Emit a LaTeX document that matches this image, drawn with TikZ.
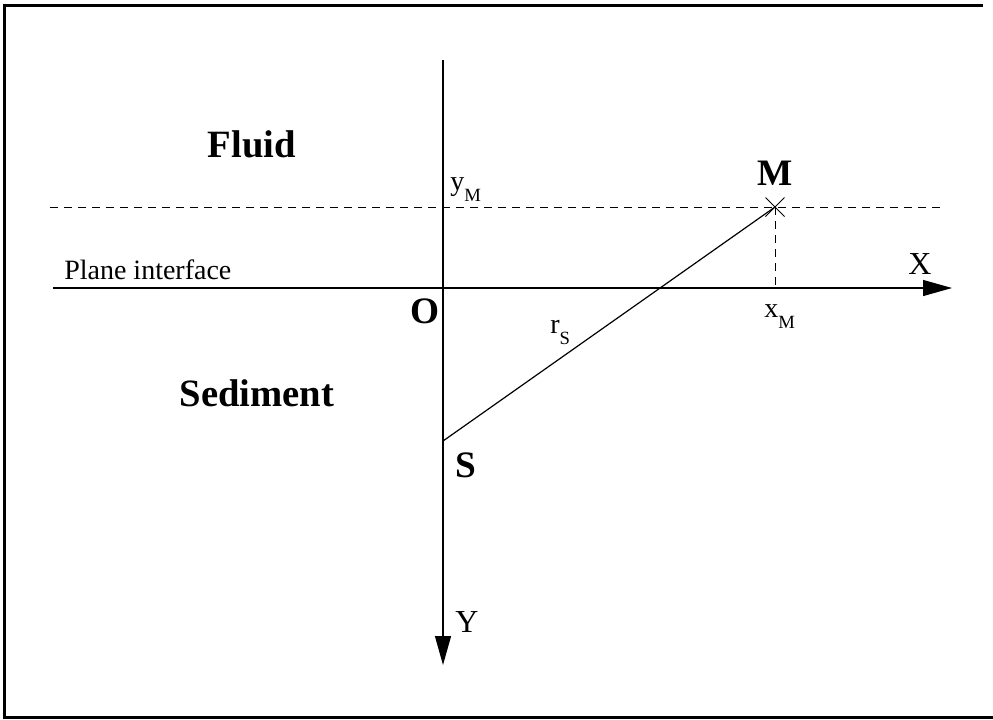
\documentclass[tikz,border=0pt]{standalone}
\usepackage{fontspec}
\setmainfont{Liberation Serif}
\usetikzlibrary{arrows.meta,shapes.misc}

\begin{document}
\begin{tikzpicture}[
    x=0.75pt, y=-0.75pt,
    axis/.style={-{Triangle[length=21.75pt,width=12pt]}, line width=0.9pt},
    guide/.style={dash pattern=on 6pt off 4.5pt, line width=0.75pt},
    region/.style={font=\fontsize{29}{34}\selectfont\bfseries, anchor=base, inner sep=0pt},
    point/.style={font=\fontsize{28}{32}\selectfont\bfseries, inner sep=0pt},
    axlabel/.style={font=\fontsize{24}{28}\selectfont, inner sep=0pt},
    coord/.style={font=\fontsize{21}{25}\selectfont, anchor=base west, inner sep=0pt},
    marker/.style={cross out, draw, line width=0.75pt, minimum size=13.5pt, inner sep=0pt}
  ]
  \useasboundingbox (0,0) rectangle (993,719);

  % frame
  \draw[line width=2.25pt] (983,5) -- (4,5) -- (4,717) -- (993,717);

  % points
  \coordinate (O) at (443,288);
  \coordinate (S) at (443,441);
  \coordinate (xstart) at (53,288);
  \coordinate (xend) at (952,288);
  \coordinate (ystart) at (443,60);
  \coordinate (yend) at (443,665);
  \coordinate (dstart) at (50,207);
  \coordinate (dend) at (943,207);
  \coordinate (xfoot) at (775,288);
  \node[marker] (M) at (775,207) {};

  % axes
  \draw[axis] (xstart) -- (xend);
  \draw[axis] (ystart) -- (yend);

  % guides
  \draw[guide] (dstart) -- (dend);
  \draw[guide] (M.center) -- (xfoot);

  % source to receiver
  \draw[line width=0.9pt] (S) -- (M.center);

  % labels
  \node[region] (fluid) at (252,157) {Fluid};
  \node[region] (sediment) at (257,406) {Sediment};
  \node[coord] (plane) at (64,279) {Plane interface};
  \node[point] (Olabel) at (425,311) {O};
  \node[point] (Slabel) at (466,465) {S};
  \node[point] (Mlabel) at (775,173) {M};
  \node[axlabel] (Xlabel) at (920,264) {X};
  \node[axlabel] (Ylabel) at (467,622) {Y};
  \node[coord] (ylab) at (450,190) {y\raisebox{-0.4em}{\fontsize{14}{16}\selectfont M}};
  \node[coord] (xlab) at (764,317) {x\raisebox{-0.4em}{\fontsize{14}{16}\selectfont M}};
  \node[coord] (rlab) at (550,333) {r\raisebox{-0.4em}{\fontsize{14}{16}\selectfont S}};

\end{tikzpicture}
\end{document}
